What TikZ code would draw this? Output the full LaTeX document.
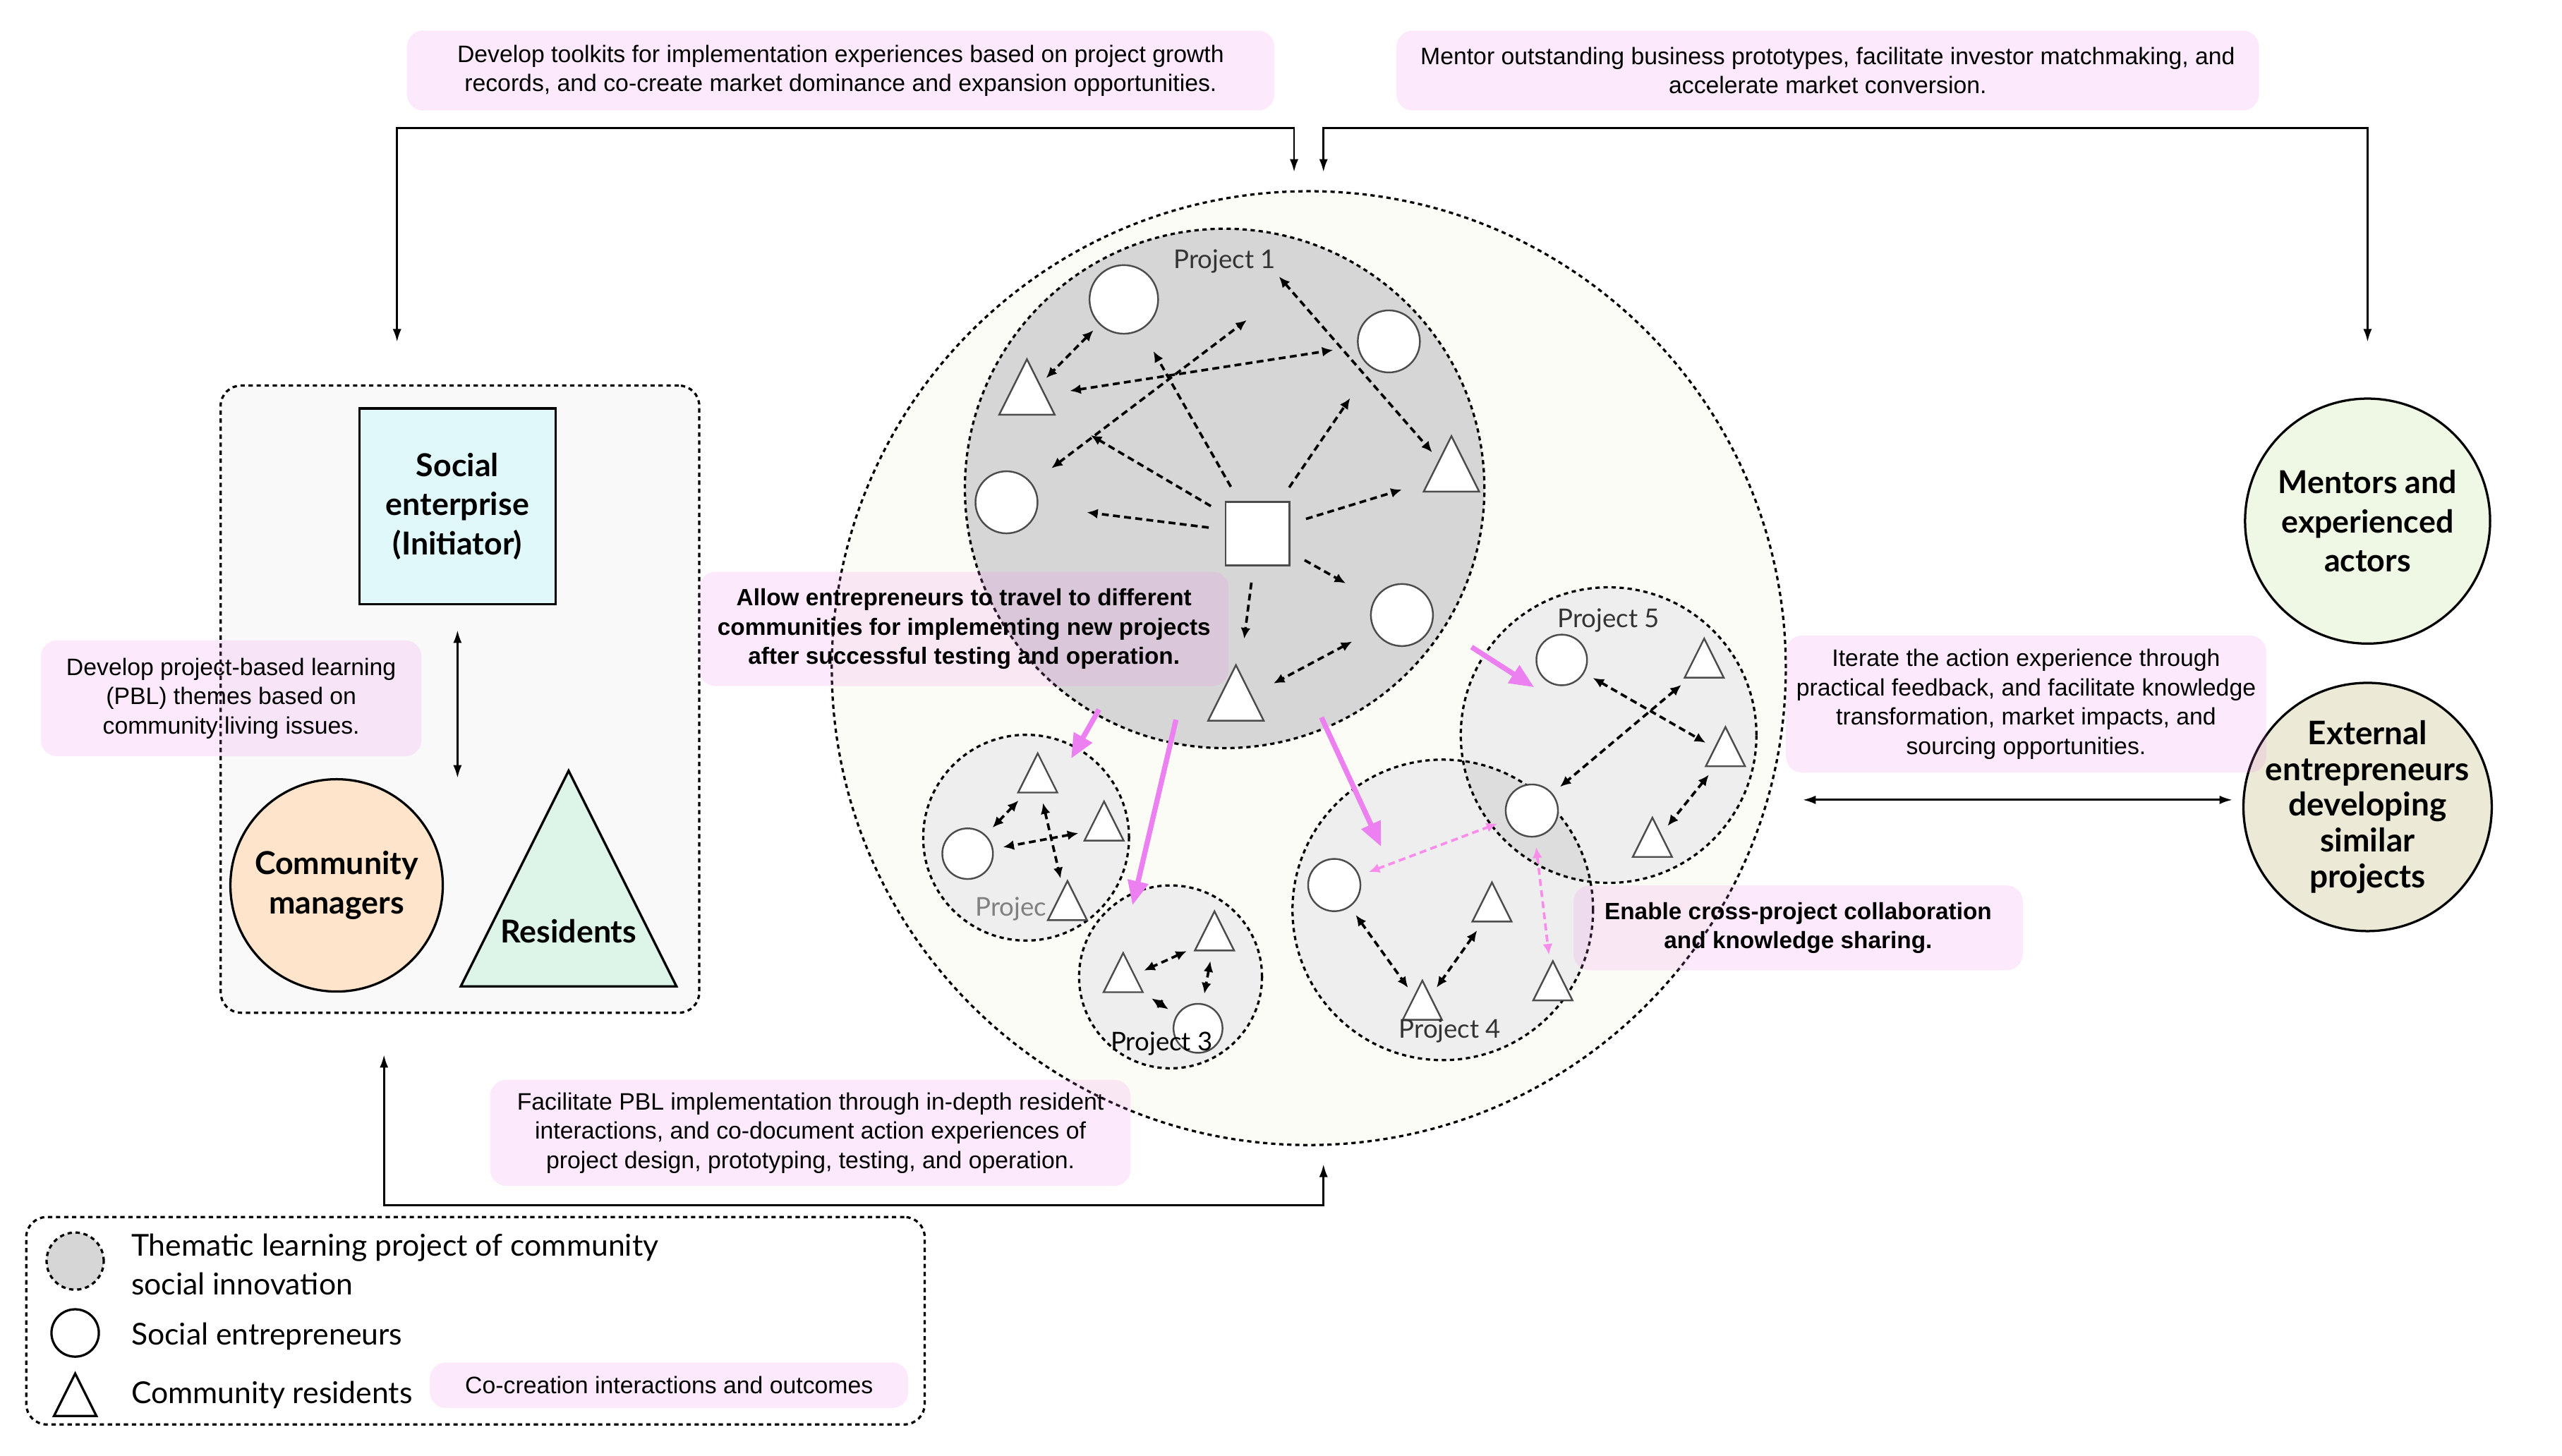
\documentclass[tikz,border=0pt]{standalone}
\usepackage{fontspec}
\setmainfont{Liberation Sans}
\newfontfamily\rolefont{Lato}
\usepackage{tikz}
\usetikzlibrary{arrows.meta, shapes.geometric, positioning}
\definecolor{notePink}{RGB}{238,130,238}
\definecolor{moveViolet}{RGB}{236,128,240}
\definecolor{shareViolet}{RGB}{250,140,235}
\definecolor{outerCream}{RGB}{252,252,246}
\definecolor{projDark}{RGB}{214,214,214}
\definecolor{projLight}{RGB}{238,238,238}
\definecolor{boxGray}{RGB}{249,249,249}
\definecolor{seCyan}{RGB}{224,248,250}
\definecolor{cmPeach}{RGB}{253,228,202}
\definecolor{resMint}{RGB}{221,245,232}
\definecolor{mentorGreen}{RGB}{239,248,228}
\definecolor{extBeige}{RGB}{236,233,214}

\begin{document}
\begin{tikzpicture}[x=0.02cm, y=-0.02cm,
  grp/.style={draw, line width=0.8pt, dash pattern=on 1.5pt off 1.3pt},
  proj/.style={grp, circle, inner sep=0pt, minimum size=#1},
  ent/.style={circle, draw=black!70, line width=0.6pt, fill=white, inner sep=0pt, minimum size=#1},
  res/.style={isosceles triangle, isosceles triangle stretches, shape border rotate=90, anchor=apex,
    draw=black!70, line width=0.6pt, fill=white, inner sep=0pt, minimum width=#1, minimum height=#1},
  res/.default=0.48cm,
  role/.style={draw, line width=0.8pt, align=center, inner sep=0pt, font=\rolefont\bfseries\fontsize{11}{13.6}\selectfont},
  note/.style={fill=notePink, fill opacity=0.17, text opacity=1, rounded corners=0.2cm, align=center, inner sep=0pt,
    font=\fontsize{8.3}{10.2}\selectfont},
  notebold/.style={note, font=\bfseries\fontsize{8.2}{10.2}\selectfont},
  tag/.style={font=\rolefont\fontsize{9}{11}\selectfont, text=black!80, inner sep=1pt},
  legendtext/.style={anchor=west, align=left, inner sep=0pt, font=\rolefont\fontsize{10.5}{13.6}\selectfont},
  link/.style={{Latex[length=3.8pt,width=3.4pt]}-{Latex[length=3.8pt,width=3.4pt]}, line width=0.9pt,
    dash pattern=on 2.4pt off 1.5pt, shorten <=0.12cm, shorten >=0.12cm},
  cast/.style={-{Latex[length=3.8pt,width=3.4pt]}, line width=0.9pt, dash pattern=on 2.4pt off 1.5pt, shorten <=0.2cm},
  move/.style={-{Triangle[length=8.5pt,width=7pt]}, line width=1.8pt, moveViolet},
  flow/.style={{Latex[length=4.5pt,width=3pt]}-{Latex[length=4.5pt,width=3pt]}, line width=0.7pt}]
\useasboundingbox (0,0) rectangle (1568,891);

\node[grp, rounded corners=0.25cm, fill=boxGray, minimum width=5.86cm, minimum height=7.68cm] (lbox) at (281.5,428) {};
\node[proj=11.68cm, fill=outerCream] (outer) at (801,409) {};
\node[proj=6.36cm, fill=projDark] (p1) at (749.5,299) {};
\node[proj=2.52cm, fill=projLight] (p2) at (628,512.8) {};
\node[proj=2.24cm, fill=projLight] (p3) at (716.4,598) {};
\node[proj=3.62cm, fill=projLight] (p5) at (984.5,450) {};
\node[proj=3.68cm, fill=projLight] (p4) at (883,557) {};
\begin{scope}
  \clip (p4.center) circle (1.84cm);
  \fill[black, fill opacity=0.07] (p5.center) circle (1.81cm);
  \draw[grp] (p5.center) circle (1.81cm);
\end{scope}

\node[role, rectangle, fill=seCyan, minimum size=2.4cm] (se) at (280,310) {Social\\enterprise\\(Initiator)};
\node[role, circle, fill=cmPeach, minimum size=2.6cm] (cm) at (206,542) {Community\\managers};
\node[role, isosceles triangle, isosceles triangle stretches, shape border rotate=90, anchor=apex,
  fill=resMint, minimum width=2.64cm, minimum height=2.64cm] (res) at (348,470) {};
\node[font=\rolefont\bfseries\fontsize{11}{13.6}\selectfont] (resText) at (348,570) {Residents};
\node[role, circle, fill=mentorGreen, minimum size=3cm] (mentor) at (1449,319) {Mentors and\\experienced\\actors};
\node[role, circle, fill=extBeige, minimum size=3.04cm, inner sep=-5pt, font=\rolefont\bfseries\fontsize{11.3}{12.5}\selectfont]
  (ext) at (1449,494) {External\\entrepreneurs\\developing\\similar\\projects};

\node[tag] (p1lab) at (749.5,160) {Project 1};
\node[ent=0.84cm] (p1a) at (687.8,183.3) {};
\node[ent=0.76cm] (p1b) at (850,209) {};
\node[ent=0.76cm] (p1c) at (616,307.5) {};
\node[ent=0.76cm] (p1d) at (858,376.5) {};
\node[res=0.68cm] (p1t1) at (628.5,218.5) {};
\node[res=0.68cm] (p1t2) at (888.3,265.6) {};
\node[res=0.68cm] (p1t3) at (756.4,405.8) {};
\node[draw=black!70, line width=0.6pt, fill=white, inner sep=0pt, minimum size=0.78cm] (p1sq) at (769.7,326.7) {};
\coordinate (p1x) at (763,196);

\node[tag] (p5lab) at (984.5,379.6) {Project 5};
\node[ent=0.62cm] (p5e1) at (955.8,404) {};
\node[ent=0.64cm] (p5e2) at (937.5,496.2) {};
\node[res] (p5ta) at (1043,389.5) {};
\node[res] (p5tb) at (1056,443.7) {};
\node[res] (p5tc) at (1011.3,499.2) {};

\node[ent=0.64cm] (p4f1) at (816.6,541.8) {};
\node[res] (p4g1) at (913.1,538.8) {};
\node[res] (p4g2) at (870.5,598.9) {};
\node[res] (p4g3) at (950.4,587) {};
\node[tag] (p4lab) at (887.4,631) {Project 4};

\node[tag, text=black!50] (p2lab) at (618.7,556.5) {Projec};
\node[ent=0.62cm] (p2k1) at (592.2,522.6) {};
\node[res] (p2h1) at (635.1,459.8) {};
\node[res] (p2h2) at (675.7,489.2) {};
\node[res] (p2h3) at (653.3,537.9) {};

\node[res] (p3m1) at (743.3,556.5) {};
\node[res] (p3m2) at (687.4,582) {};
\node[ent=0.6cm] (p3n1) at (733.2,629.5) {};
\node[tag, text=black] (p3lab) at (711,638.8) {Project 3};

\draw[link, shorten <=0.1cm, shorten >=0.1cm] (p1a) -- (p1t1);
\draw[link, shorten <=0.3cm, shorten >=0.3cm] (p1t1) -- (p1b);
\draw[link, shorten <=0.3cm, shorten >=0pt] (p1c) -- (p1x);
\draw[link, shorten <=0pt] (p1lab.south east) -- (p1t2);
\draw[link, shorten <=0.3cm, shorten >=0.3cm] (p1d) -- (p1t3);
\foreach \t/\s in {p1c/0.6cm, p1t1/0.5cm, p1a/0.3cm, p1b/0.45cm, p1t2/0.33cm, p1t3/0.4cm, p1d/0.4cm}
  \draw[cast, shorten >=\s] (p1sq) -- (\t);

\draw[link] (p5e1) -- (p5tb);
\draw[link] (p5ta) -- (p5e2);
\draw[link] (p5tb) -- (p5tc);
\draw[link] (p4f1) -- (p4g2);
\draw[link] (p4g1) -- (p4g2);
\draw[link, shareViolet] (p4f1) -- (p5e2);
\draw[link, shareViolet] (p5e2) -- (p4g3);
\draw[link] (p2h1) -- (p2k1);
\draw[link] (p2h2) -- (p2k1);
\draw[link] (p2h1) -- (p2h3);
\draw[link] (p3m1) -- (p3m2);
\draw[link] (p3m1) -- (p3n1);
\draw[link] (p3m2) -- (p3n1);

\draw[move, shorten <=-0.08cm, shorten >=-0.16cm] (p1) -- (p2);
\draw[move, shorten <=-0.3cm, shorten >=-0.18cm] (p1.-102) -- (p3.112);
\draw[move, shorten <=-0.15cm, shorten >=-0.8cm] (p1.-67.6) -- (p4.126.5);
\draw[move, shorten <=0.4cm, shorten >=-0.74cm] (p1) -- (p5);

\draw[flow] ([xshift=-0.18cm,yshift=0.22cm]outer.north) -- ++(0,-27) -| ([xshift=-0.77cm,yshift=0.52cm]lbox.north);
\draw[flow] ([xshift=0.18cm,yshift=0.22cm]outer.north) -- ++(0,-27) -| ([yshift=0.68cm]mentor.north);
\draw[flow] ([xshift=-0.93cm,yshift=-0.5cm]lbox.south) -- ++(0,92) -| ([xshift=0.18cm,yshift=-0.22cm]outer.south);
\draw[flow, shorten <=0.42cm, shorten >=0.12cm] (outer.-16) -- (outer.-16 -| ext.west);
\draw[flow, shorten <=0.3cm] (se.south) -- (se.south |- cm.north);

\node[note, minimum width=10.62cm, minimum height=0.98cm] (noteKit) at (514.5,43.2)
  {Develop toolkits for implementation experiences based on project growth\\records, and co-create market dominance and expansion opportunities.};
\node[note, minimum width=10.56cm, minimum height=0.98cm] (noteMentor) at (1118.6,43.2)
  {Mentor outstanding business prototypes, facilitate investor matchmaking, and\\accelerate market conversion.};
\node[note, minimum width=4.66cm, minimum height=1.42cm] (notePBL) at (141.5,427.5)
  {Develop project-based learning\\(PBL) themes based on\\community living issues.};
\node[notebold, minimum width=6.48cm, minimum height=1.4cm] (noteTravel) at (590,385)
  {Allow entrepreneurs to travel to different\\communities for implementing new projects\\after successful testing and operation.};
\node[note, minimum width=5.88cm, minimum height=1.68cm] (noteIterate) at (1240,431)
  {Iterate the action experience through\\practical feedback, and facilitate knowledge\\transformation, market impacts, and\\sourcing opportunities.};
\node[notebold, minimum width=5.5cm, minimum height=1.04cm] (noteCross) at (1100.5,568)
  {Enable cross-project collaboration\\and knowledge sharing.};
\node[note, minimum width=7.84cm, minimum height=1.3cm] (noteFacil) at (496,693.5)
  {Facilitate PBL implementation through in-depth resident\\interactions, and co-document action experiences of\\project design, prototyping, testing, and operation.};

\node[grp, rounded corners=0.25cm, minimum width=11cm, minimum height=2.54cm] (legend) at (291,808.5) {};
\node[grp, circle, fill=projDark, inner sep=0pt, minimum size=0.7cm] (lgProj) at (46,772) {};
\node[ent=0.58cm, draw=black, line width=0.8pt] (lgEnt) at (46,816) {};
\node[res=0.52cm, draw=black, line width=0.8pt] (lgRes) at (46,839) {};
\node[legendtext] (lgProjText) at (80,774) {Thematic learning project of community\\social innovation};
\node[legendtext] (lgEntText) at (80,818) {Social entrepreneurs};
\node[legendtext] (lgResText) at (80,854) {Community residents};
\node[note, minimum width=5.86cm, minimum height=0.56cm] (noteCo) at (409.5,848) {Co-creation interactions and outcomes};
\end{tikzpicture}
\end{document}
